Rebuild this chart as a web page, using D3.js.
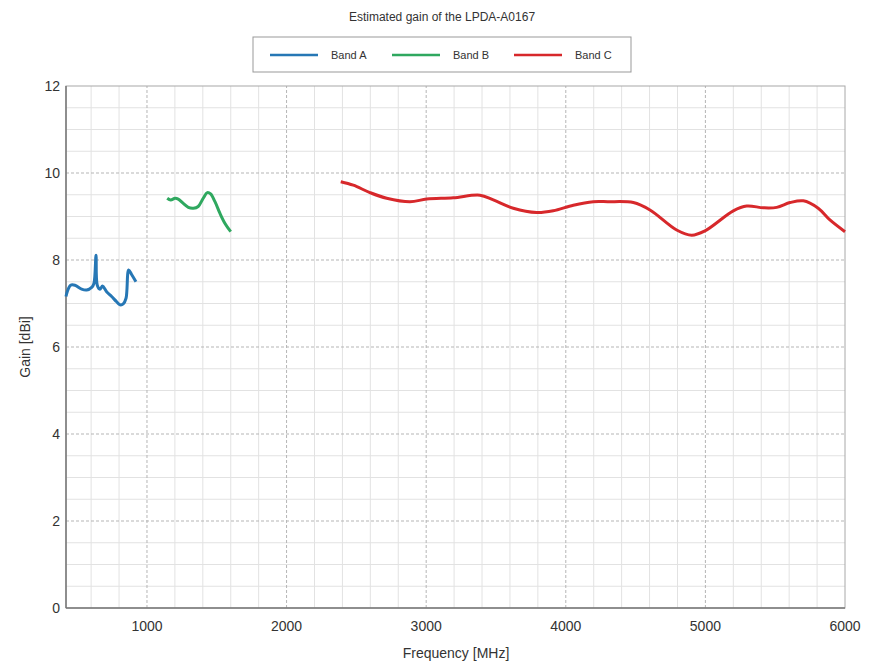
<!DOCTYPE html>
<html>
<head>
<meta charset="utf-8">
<script src="https://cdn.jsdelivr.net/npm/d3@7"></script>
<style>
  body { margin: 0; background: #fff; }
  text { font-family: "Liberation Sans", Arial, sans-serif; fill: #333; }
</style>
</head>
<body>
<div id="viz"></div>
<script>
// series data
const bandAFreq = [420, 429, 453, 484, 532, 568, 604, 620, 635, 644, 663, 682, 711, 747, 783, 807, 830, 850, 869, 891, 921]
const bandAGain = [7.16, 7.27, 7.42, 7.42, 7.33, 7.31, 7.37, 7.46, 8.11, 7.42, 7.33, 7.40, 7.27, 7.16, 7.04, 6.97, 6.99, 7.12, 7.77, 7.66, 7.50]

const bandBFreq = [1145, 1170, 1201, 1224, 1260, 1296, 1332, 1367, 1403, 1432, 1456, 1487, 1523, 1559, 1600]
const bandBGain = [9.42, 9.38, 9.42, 9.40, 9.30, 9.21, 9.19, 9.23, 9.42, 9.55, 9.52, 9.34, 9.07, 8.84, 8.65]

const bandCFreq = [2388, 2478, 2597, 2717, 2884, 3004, 3194, 3385, 3481, 3624, 3791, 3910, 4054, 4197, 4300, 4484, 4603, 4794, 4902, 4997, 5200, 5296, 5415, 5511, 5607, 5701, 5808, 5892, 6000]
const bandCGain = [9.80, 9.72, 9.55, 9.42, 9.34, 9.40, 9.43, 9.49, 9.38, 9.19, 9.09, 9.13, 9.26, 9.34, 9.34, 9.32, 9.15, 8.69, 8.57, 8.67, 9.13, 9.24, 9.20, 9.21, 9.32, 9.36, 9.19, 8.92, 8.65]

const seriesNames = ["Band A", "Band B", "Band C"]
const seriesColors = ["#2677b5", "#2fa85f", "#d7282b"]

const xTicks = [1000, 2000, 3000, 4000, 5000, 6000]
const yTicks = [0, 2, 4, 6, 8, 10, 12]

const W = 871, H = 664
const margin = {left: 66, right: 26, top: 86, bottom: 56}

const svg = d3.select("#viz").append("svg").attr("width", W).attr("height", H)

const x = d3.scaleLinear().domain([420, 6000]).range([margin.left, W - margin.right])
const y = d3.scaleLinear().domain([0, 12]).range([H - margin.bottom, margin.top])

// minor grid
const minorX = d3.range(600, 6000, 200).filter(v => v % 1000 != 0)
const minorY = d3.range(0.5, 12, 0.5).filter(v => v % 2 != 0)

svg.append("g").selectAll("line").data(minorX).enter().append("line")
  .attr("x1", d => x(d)).attr("x2", d => x(d))
  .attr("y1", y(0)).attr("y2", y(12))
  .attr("stroke", "#e2e2e2").attr("stroke-width", 1)

svg.append("g").selectAll("line").data(minorY).enter().append("line")
  .attr("x1", x(420)).attr("x2", x(6000))
  .attr("y1", d => y(d)).attr("y2", d => y(d))
  .attr("stroke", "#e2e2e2").attr("stroke-width", 1)

// major grid (dashed)
svg.append("g").selectAll("line").data(xTicks.slice(0, -1)).enter().append("line")
  .attr("x1", d => x(d)).attr("x2", d => x(d))
  .attr("y1", y(0)).attr("y2", y(12))
  .attr("stroke", "#b5b5b5").attr("stroke-dasharray", "3,2")

svg.append("g").selectAll("line").data(yTicks.slice(1, -1)).enter().append("line")
  .attr("x1", x(420)).attr("x2", x(6000))
  .attr("y1", d => y(d)).attr("y2", d => y(d))
  .attr("stroke", "#b5b5b5").attr("stroke-dasharray", "3,2")

// frame
svg.append("rect")
  .attr("x", x(420)).attr("y", y(12))
  .attr("width", x(6000) - x(420)).attr("height", y(0) - y(12))
  .attr("fill", "none").attr("stroke", "#a8a8a8")

svg.append("line").attr("x1", x(420)).attr("x2", x(420)).attr("y1", y(0)).attr("y2", y(12))
  .attr("stroke", "#777").attr("stroke-width", 1.5)
svg.append("line").attr("x1", x(420)).attr("x2", x(6000)).attr("y1", y(0)).attr("y2", y(0))
  .attr("stroke", "#777").attr("stroke-width", 1.5)

// tick labels
svg.append("g").selectAll("text").data(yTicks).enter().append("text")
  .attr("x", x(420) - 6).attr("y", d => y(d) + 5)
  .attr("text-anchor", "end").style("font-size", "14px")
  .text(d => d)

svg.append("g").selectAll("text").data(xTicks).enter().append("text")
  .attr("x", d => x(d)).attr("y", y(0) + 23)
  .attr("text-anchor", "middle").style("font-size", "14px")
  .text(d => d)

// axis titles
svg.append("text").attr("x", 456).attr("y", 658)
  .attr("text-anchor", "middle").style("font-size", "14px")
  .text("Frequency [MHz]")

svg.append("text")
  .attr("transform", `translate(30, ${(y(0) + y(12)) / 2}) rotate(-90)`)
  .attr("text-anchor", "middle").style("font-size", "14px")
  .text("Gain [dBi]")

svg.append("text").attr("x", 442).attr("y", 21)
  .attr("text-anchor", "middle").style("font-size", "12px")
  .text("Estimated gain of the LPDA-A0167")

// lines
const line = d3.line()
  .x(d => x(d[0]))
  .y(d => y(d[1]))
  .curve(d3.curveCatmullRom)

const bands = [
  d3.zip(bandAFreq, bandAGain),
  d3.zip(bandBFreq, bandBGain),
  d3.zip(bandCFreq, bandCGain)
]

svg.append("g").selectAll("path").data(bands).enter().append("path")
  .attr("d", d => line(d))
  .attr("fill", "none")
  .attr("stroke", (d, i) => seriesColors[i])
  .attr("stroke-width", 3)
  .attr("stroke-linejoin", "round")

// legend
const legend = svg.append("g")
legend.append("rect")
  .attr("x", 253).attr("y", 37).attr("width", 378).attr("height", 35)
  .attr("fill", "#fff").attr("stroke", "#999")

const legX = [270, 392, 514]
seriesNames.forEach((name, i) => {
  legend.append("line")
    .attr("x1", legX[i]).attr("x2", legX[i] + 48)
    .attr("y1", 55).attr("y2", 55)
    .attr("stroke", seriesColors[i]).attr("stroke-width", 2.5)
  legend.append("text")
    .attr("x", legX[i] + 61).attr("y", 59)
    .style("font-size", "11px")
    .text(name)
})
</script>
</body>
</html>
